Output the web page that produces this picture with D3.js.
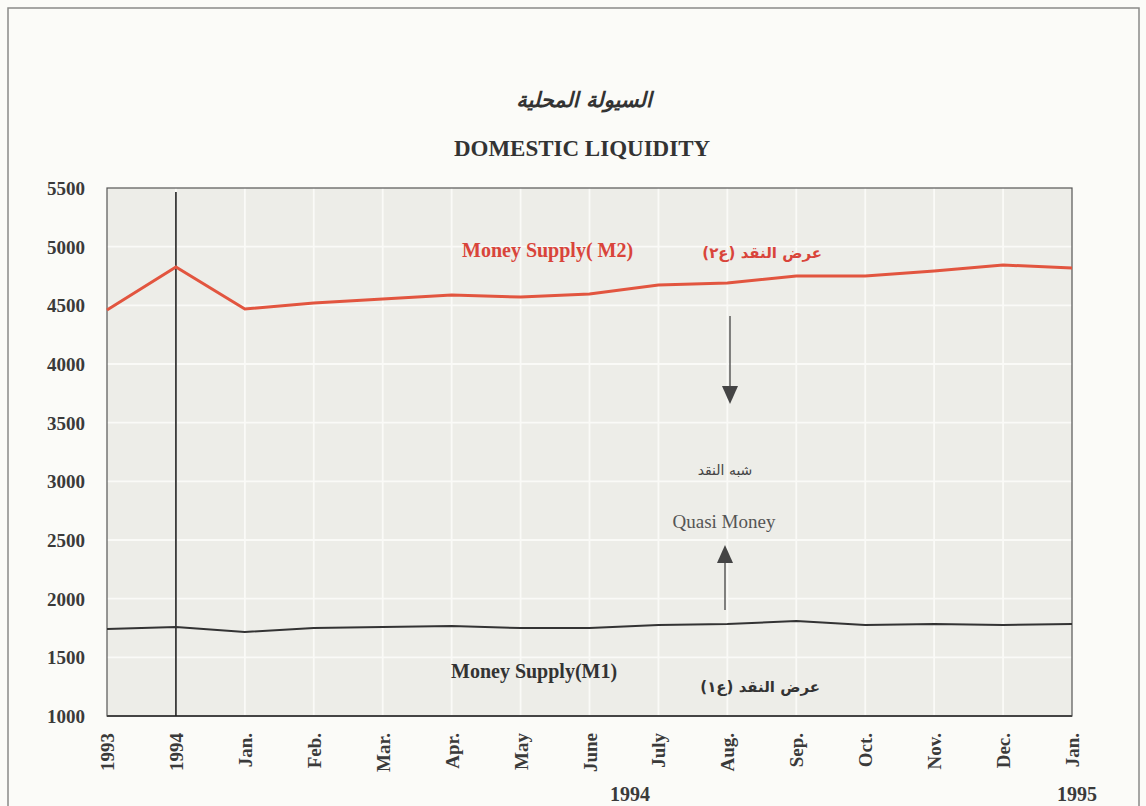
<!DOCTYPE html>
<html>
<head>
<meta charset="utf-8">
<script src="https://cdn.jsdelivr.net/npm/d3@7"></script>
<style>
  body { margin: 0; background: #fbfbf8; }
  svg { display: block; }
</style>
</head>
<body>
<div id="chart"></div>
<script>
var categories = ["1993", "1994", "Jan.", "Feb.", "Mar.", "Apr.", "May", "June", "July", "Aug.", "Sep.", "Oct.", "Nov.", "Dec.", "Jan."];
var m2Values = [4460, 4827, 4469, 4520, 4554, 4588, 4571, 4597, 4673, 4690, 4750, 4750, 4793, 4844, 4818];
var m1Values = [1741, 1758, 1716, 1750, 1758, 1767, 1750, 1750, 1775, 1784, 1809, 1775, 1784, 1775, 1784];
var yTicks = [1000, 1500, 2000, 2500, 3000, 3500, 4000, 4500, 5000, 5500];

var W = 1146, H = 806;
var margin = {top: 188, right: 74, bottom: 90, left: 107},
    width = W - margin.left - margin.right,
    height = H - margin.top - margin.bottom;

var svg = d3.select("#chart")
    .append("svg")
    .attr("width", W)
    .attr("height", H);

// outer frame of the page
svg.append("rect")
    .attr("x", 8).attr("y", 8)
    .attr("width", 1131).attr("height", 820)
    .attr("fill", "none")
    .attr("stroke", "#8a8a88")
    .attr("stroke-width", 1.5);

// titles
svg.append("text")
    .attr("x", 584).attr("y", 107)
    .attr("text-anchor", "middle")
    .style("font-family", "DejaVu Sans")
    .style("font-style", "italic")
    .style("font-weight", "bold")
    .style("font-size", "21px")
    .style("fill", "#333")
    .attr("direction", "rtl")
    .text("السيولة المحلية");

svg.append("text")
    .attr("x", 582).attr("y", 156)
    .attr("text-anchor", "middle")
    .style("font-family", "Liberation Serif")
    .style("font-weight", "bold")
    .style("font-size", "23px")
    .style("fill", "#333")
    .text("DOMESTIC LIQUIDITY");

var g = svg.append("g")
    .attr("transform", "translate(" + margin.left + "," + margin.top + ")");

var x = d3.scalePoint().domain(d3.range(categories.length)).range([0, width]);
var y = d3.scaleLinear().domain([1000, 5500]).range([height, 0]);

// plot background
g.append("rect")
    .attr("width", width).attr("height", height)
    .attr("fill", "#ededE8");

// white grid
g.selectAll(".hgrid")
    .data(yTicks.slice(1, -1))
    .enter()
    .append("line")
    .attr("x1", 0).attr("x2", width)
    .attr("y1", function(d){return y(d)})
    .attr("y2", function(d){return y(d)})
    .attr("stroke", "#fafaf7")
    .attr("stroke-width", 1.8);

g.selectAll(".vgrid")
    .data(d3.range(1, categories.length - 1))
    .enter()
    .append("line")
    .attr("x1", function(d){return x(d)})
    .attr("x2", function(d){return x(d)})
    .attr("y1", 0).attr("y2", height)
    .attr("stroke", "#fafaf7")
    .attr("stroke-width", 1.8);

// plot border
g.append("rect")
    .attr("width", width).attr("height", height)
    .attr("fill", "none")
    .attr("stroke", "#555")
    .attr("stroke-width", 1.2);
g.append("line")
    .attr("x1", 0).attr("x2", width)
    .attr("y1", height).attr("y2", height)
    .attr("stroke", "#444")
    .attr("stroke-width", 2);

// 1994 separator
g.append("line")
    .attr("x1", x(1)).attr("x2", x(1))
    .attr("y1", 4).attr("y2", height)
    .attr("stroke", "#222")
    .attr("stroke-width", 1.6);

// y axis labels
g.selectAll(".ylab")
    .data(yTicks)
    .enter()
    .append("text")
    .attr("x", -22)
    .attr("y", function(d){return y(d) + 7})
    .attr("text-anchor", "end")
    .style("font-family", "Liberation Serif")
    .style("font-weight", "bold")
    .style("font-size", "19px")
    .style("fill", "#3a3a3a")
    .text(function(d){return d});

// x axis labels, rotated
g.selectAll(".xlab")
    .data(categories)
    .enter()
    .append("text")
    .attr("transform", function(d, i){return "translate(" + (x(i) + 7) + "," + (height + 17) + ") rotate(-90)"})
    .attr("text-anchor", "end")
    .style("font-family", "Liberation Serif")
    .style("font-weight", "bold")
    .style("font-size", "19px")
    .style("fill", "#3a3a3a")
    .text(function(d){return d});

svg.append("text")
    .attr("x", 630).attr("y", 801)
    .attr("text-anchor", "middle")
    .style("font-family", "Liberation Serif")
    .style("font-weight", "bold")
    .style("font-size", "20px")
    .style("fill", "#3a3a3a")
    .text("1994");
svg.append("text")
    .attr("x", 1077).attr("y", 801)
    .attr("text-anchor", "middle")
    .style("font-family", "Liberation Serif")
    .style("font-weight", "bold")
    .style("font-size", "20px")
    .style("fill", "#3a3a3a")
    .text("1995");

// lines
var line = d3.line()
    .x(function(d, i){return x(i)})
    .y(function(d){return y(d)});

g.append("path")
    .datum(m2Values)
    .attr("d", line)
    .attr("fill", "none")
    .attr("stroke", "#e2553f")
    .attr("stroke-width", 3);

g.append("path")
    .datum(m1Values)
    .attr("d", line)
    .attr("fill", "none")
    .attr("stroke", "#333")
    .attr("stroke-width", 2);

// series labels
svg.append("text")
    .attr("x", 462).attr("y", 257)
    .style("font-family", "Liberation Serif")
    .style("font-weight", "bold")
    .style("font-size", "20px")
    .style("fill", "#d9443a")
    .text("Money Supply( M2)");
svg.append("text")
    .attr("x", 822).attr("y", 258)
    .attr("text-anchor", "start")
    .attr("direction", "rtl")
    .style("font-family", "DejaVu Sans")
    .style("font-weight", "bold")
    .style("font-size", "15px")
    .style("fill", "#d9443a")
    .text("عرض النقد (ع٢)");

svg.append("text")
    .attr("x", 451).attr("y", 678)
    .style("font-family", "Liberation Serif")
    .style("font-weight", "bold")
    .style("font-size", "20px")
    .style("fill", "#333")
    .text("Money Supply(M1)");
svg.append("text")
    .attr("x", 820).attr("y", 692)
    .attr("text-anchor", "start")
    .attr("direction", "rtl")
    .style("font-family", "DejaVu Sans")
    .style("font-weight", "bold")
    .style("font-size", "15px")
    .style("fill", "#333")
    .text("عرض النقد (ع١)");

// quasi money annotation
svg.append("text")
    .attr("x", 725).attr("y", 475)
    .attr("text-anchor", "middle")
    .attr("direction", "rtl")
    .style("font-family", "DejaVu Sans")
    .style("font-size", "14px")
    .style("fill", "#444")
    .text("شبه النقد");
svg.append("text")
    .attr("x", 724).attr("y", 528)
    .attr("text-anchor", "middle")
    .style("font-family", "Liberation Serif")
    .style("font-size", "19px")
    .style("fill", "#555")
    .text("Quasi Money");

svg.append("line")
    .attr("x1", 730).attr("x2", 730)
    .attr("y1", 316).attr("y2", 388)
    .attr("stroke", "#444").attr("stroke-width", 1.3);
svg.append("path")
    .attr("d", "M722,386 L738,386 L730,404 Z")
    .attr("fill", "#444");

svg.append("line")
    .attr("x1", 725).attr("x2", 725)
    .attr("y1", 560).attr("y2", 610)
    .attr("stroke", "#444").attr("stroke-width", 1.3);
svg.append("path")
    .attr("d", "M717,563 L733,563 L725,545 Z")
    .attr("fill", "#444");
</script>
</body>
</html>
